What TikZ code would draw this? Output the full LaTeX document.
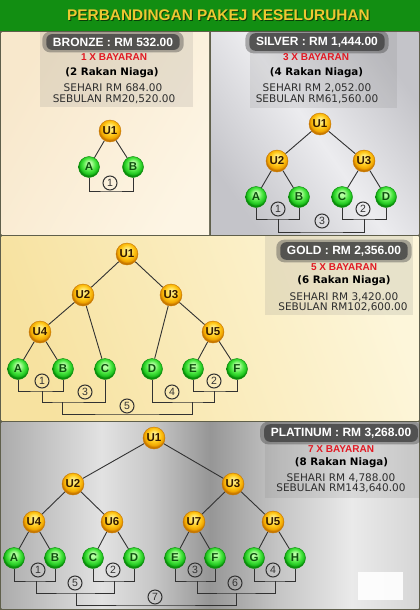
\documentclass[tikz,border=0pt]{standalone}
\usepackage{fontspec}
\setmainfont{Liberation Sans}
\newfontfamily\dvs{DejaVu Sans}
\definecolor{framec}{RGB}{95,95,75}
\definecolor{titlegreen}{RGB}{18,142,18}
\definecolor{titletext}{RGB}{238,200,50}
\definecolor{linec}{RGB}{50,50,50}
\definecolor{payred}{RGB}{225,25,35}
\definecolor{infotext}{RGB}{45,45,45}
\definecolor{hdrgray}{RGB}{65,65,65}
\definecolor{uhi}{RGB}{255,238,130}
\definecolor{umid}{RGB}{255,200,25}
\definecolor{ulow}{RGB}{240,165,0}
\definecolor{uedge}{RGB}{200,120,0}
\definecolor{utext}{RGB}{50,25,0}
\definecolor{ghi}{RGB}{185,255,165}
\definecolor{gmid}{RGB}{75,230,65}
\definecolor{glow}{RGB}{30,195,30}
\definecolor{gedge}{RGB}{10,140,10}
\definecolor{gtext}{RGB}{15,80,15}
\definecolor{bronzeA}{RGB}{248,232,204}
\definecolor{bronzeB}{RGB}{253,245,228}
\definecolor{silverA}{RGB}{196,196,201}
\definecolor{silverB}{RGB}{236,236,239}
\definecolor{goldA}{RGB}{247,226,160}
\definecolor{goldB}{RGB}{253,246,218}
\definecolor{m0}{RGB}{172,172,172}
\definecolor{m1}{RGB}{226,226,226}
\definecolor{m2}{RGB}{200,200,200}
\definecolor{m3}{RGB}{150,150,150}
\definecolor{m4}{RGB}{196,196,196}
\definecolor{m5}{RGB}{234,234,234}
\definecolor{m6}{RGB}{214,214,214}
\pgfdeclareradialshading{uball}{\pgfpoint{0bp}{9bp}}{color(0bp)=(uhi); color(5bp)=(uhi); color(15bp)=(umid); color(22bp)=(ulow); color(25bp)=(uedge); color(50bp)=(uedge)}
\pgfdeclareradialshading{gball}{\pgfpoint{0bp}{9bp}}{color(0bp)=(ghi); color(5bp)=(ghi); color(15bp)=(gmid); color(22bp)=(glow); color(25bp)=(gedge); color(50bp)=(gedge)}
\pgfdeclarehorizontalshading{metal}{100bp}{color(0bp)=(m0); color(25bp)=(m0); color(37bp)=(m1); color(43bp)=(m2); color(50bp)=(m3); color(58bp)=(m4); color(67bp)=(m5); color(75bp)=(m6); color(100bp)=(m6)}
\pgfdeclarelayer{bg}
\pgfdeclarelayer{mid}
\pgfsetlayers{bg,mid,main}
\begin{document}
\begin{tikzpicture}[x=1pt,y=-1pt,
  un/.style={circle, minimum size=22pt, inner sep=0pt, shade, shading=uball, draw=uedge, line width=0.4pt, font=\bfseries\fontsize{11.5}{11.5}\selectfont, text=utext},
  gn/.style={circle, minimum size=21pt, inner sep=0pt, shade, shading=gball, draw=gedge, line width=0.4pt, font=\bfseries\fontsize{11.5}{11.5}\selectfont, text=gtext},
  conn/.style={draw=linec, line width=0.9pt},
  brk/.style={draw=linec, line width=0.9pt},
  num/.style={circle, draw=linec, line width=1pt, minimum size=14pt, inner sep=0pt, font=\fontsize{10.5}{10.5}\selectfont, text=linec},
  hdr/.style={font=\bfseries\fontsize{12}{12}\selectfont, text=white, inner sep=1.5pt},
  pay/.style={font=\bfseries\fontsize{10}{10}\selectfont, text=payred, inner sep=0pt},
  rakan/.style={font=\dvs\bfseries\fontsize{10.3}{10.3}\selectfont, text=black, inner sep=0pt},
  info/.style={font=\dvs\fontsize{10.5}{10.5}\selectfont, text=infotext, inner sep=0pt},
  infobox/.style={fill=gray, opacity=0.17},
  glowout/.style={fill=hdrgray, opacity=0.4, rounded corners=8pt},
  glowin/.style={fill=hdrgray, opacity=0.8, rounded corners=6pt},
  ]
\useasboundingbox (0,0) rectangle (420,610);
% ---------- backgrounds ----------
\begin{pgfonlayer}{bg}
\fill[framec] (0,0) rectangle (420,610);
\fill[titlegreen] (0,0) rectangle (420,31);
\shade[left color=bronzeA, right color=bronzeB, shading angle=60] (1.5,32.5) rectangle (209,234);
\shade[left color=silverA, right color=silverA, middle color=silverB, shading angle=125] (211,32.5) rectangle (418.5,234);
\shade[left color=goldA, right color=goldB, shading angle=110] (1.5,236) rectangle (418.5,420);
\shade[shading=metal] (1.5,422) rectangle (418.5,608.5);
\fill[white, opacity=0.9] (358,572) rectangle (403,600);
\end{pgfonlayer}
% ---------- title ----------
\node[text=black, opacity=0.55, font=\bfseries\fontsize{15.4}{15.4}\selectfont] (titleS) at (219.5,15.8) {PERBANDINGAN PAKEJ KESELURUHAN};
\node[text=titletext, font=\bfseries\fontsize{15.4}{15.4}\selectfont] (title) at (218.5,14.8) {PERBANDINGAN PAKEJ KESELURUHAN};
% ---------- BRONZE ----------
\begin{pgfonlayer}{mid}
\fill[infobox] (40,32.5) rectangle (193,107);
\end{pgfonlayer}
\node[hdr] (bH) at (113,42) {BRONZE : RM 532.00};
\node[pay] (bP) at (114,57) {1 X BAYARAN};
\node[rakan] (bR) at (112,73) {(2 Rakan Niaga)};
\node[info] (bS1) at (113,88) {SEHARI RM 684.00};
\node[info] (bS2) at (114,99) {SEBULAN RM20,520.00};
\node[un] (bU1) at (110,131) {U1};
\node[gn] (bA) at (89,167) {A};
\node[gn] (bB) at (133,167) {B};
\coordinate (bk1) at (111,191);
\node[num] (bn1) at (110,183) {1};
% ---------- SILVER ----------
\begin{pgfonlayer}{mid}
\fill[infobox] (250,32.5) rectangle (397,108);
\end{pgfonlayer}
\node[hdr] (sH) at (317,42) {SILVER : RM 1,444.00};
\node[pay] (sP) at (316,57) {3 X BAYARAN};
\node[rakan] (sR) at (316.5,73) {(4 Rakan Niaga)};
\node[info] (sS1) at (317,88) {SEHARI RM 2,052.00};
\node[info] (sS2) at (317,99) {SEBULAN RM61,560.00};
\node[un] (sU1) at (320,124) {U1};
\node[un] (sU2) at (277,161) {U2};
\node[un] (sU3) at (364,161) {U3};
\node[gn] (sA) at (256,197) {A};
\node[gn] (sB) at (299,197) {B};
\node[gn] (sC) at (342,197) {C};
\node[gn] (sD) at (386,197) {D};
\coordinate (sk1) at (278,219);
\coordinate (sk2) at (364,219);
\coordinate (sk3) at (322,232);
\node[num] (sn1) at (278,209) {1};
\node[num] (sn2) at (363,209) {2};
\node[num] (sn3) at (322,221) {3};
% ---------- GOLD ----------
\begin{pgfonlayer}{mid}
\fill[infobox] (265,236) rectangle (413,315);
\end{pgfonlayer}
\node[hdr] (gH) at (344,251) {GOLD : RM 2,356.00};
\node[pay] (gP) at (344,267) {5 X BAYARAN};
\node[rakan] (gR) at (344,281) {(6 Rakan Niaga)};
\node[info] (gS1) at (344,297) {SEHARI RM 3,420.00};
\node[info] (gS2) at (343,307) {SEBULAN RM102,600.00};
\node[un] (gU1) at (127,254) {U1};
\node[un] (gU2) at (83,295) {U2};
\node[un] (gU3) at (171,295) {U3};
\node[un] (gU4) at (40,332) {U4};
\node[un] (gU5) at (213,332) {U5};
\node[gn] (gA) at (18,369) {A};
\node[gn] (gB) at (63,369) {B};
\node[gn] (gC) at (105,369) {C};
\node[gn] (gD) at (152,369) {D};
\node[gn] (gE) at (193,369) {E};
\node[gn] (gF) at (237,369) {F};
\coordinate (gk1) at (42,391);
\coordinate (gk2) at (214,391);
\coordinate (gk3) at (62,402);
\coordinate (gk4) at (192,402);
\coordinate (gk5) at (127,414);
\node[num] (gn1) at (42,381) {1};
\node[num] (gn2) at (214,381) {2};
\node[num] (gn3) at (85,392) {3};
\node[num] (gn4) at (172,392) {4};
\node[num] (gn5) at (127,406) {5};
% ---------- PLATINUM ----------
\begin{pgfonlayer}{mid}
\fill[infobox] (265,422) rectangle (418.5,498);
\end{pgfonlayer}
\node[hdr] (pH) at (341,433) {PLATINUM : RM 3,268.00};
\node[pay] (pP) at (341,449) {7 X BAYARAN};
\node[rakan] (pR) at (341.5,463) {(8 Rakan Niaga)};
\node[info] (pS1) at (341,478) {SEHARI RM 4,788.00};
\node[info] (pS2) at (341,488) {SEBULAN RM143,640.00};
\node[un] (pU1) at (154,438) {U1};
\node[un] (pU2) at (73,484) {U2};
\node[un] (pU3) at (233,484) {U3};
\node[un] (pU4) at (34,522) {U4};
\node[un] (pU6) at (112,522) {U6};
\node[un] (pU7) at (194,522) {U7};
\node[un] (pU5) at (273,522) {U5};
\node[gn] (pA) at (14,558) {A};
\node[gn] (pB) at (55,558) {B};
\node[gn] (pC) at (93,558) {C};
\node[gn] (pD) at (134,558) {D};
\node[gn] (pE) at (175,558) {E};
\node[gn] (pF) at (215,558) {F};
\node[gn] (pG) at (254,558) {G};
\node[gn] (pHH) at (295,558) {H};
\coordinate (pk1) at (36,581);
\coordinate (pk2) at (114,581);
\coordinate (pk3) at (197,581);
\coordinate (pk4) at (275,581);
\coordinate (pk5) at (76,593);
\coordinate (pk6) at (236,593);
\coordinate (pk7) at (155,605);
\node[num] (pn1) at (38,570) {1};
\node[num] (pn2) at (113,570) {2};
\node[num] (pn3) at (195,570) {3};
\node[num] (pn4) at (273,570) {4};
\node[num] (pn5) at (75,583) {5};
\node[num] (pn6) at (235,583) {6};
\node[num] (pn7) at (155,597) {7};
% ---------- header glows ----------
\begin{pgfonlayer}{mid}
\foreach \h in {bH,sH,gH,pH}{
  \fill[glowout] ([shift={(-9,-4.5)}]\h.north west) rectangle ([shift={(9,4.5)}]\h.south east);
  \fill[glowin] ([shift={(-5,-2)}]\h.north west) rectangle ([shift={(5,2)}]\h.south east);
}
% ---------- connectors ----------
\draw[conn] (bU1) -- (bA); \draw[conn] (bU1) -- (bB);
\draw[brk] (bA.south) |- (bk1) -| (bB.south);
\draw[conn] (sU1) -- (sU2); \draw[conn] (sU1) -- (sU3);
\draw[conn] (sU2) -- (sA); \draw[conn] (sU2) -- (sB);
\draw[conn] (sU3) -- (sC); \draw[conn] (sU3) -- (sD);
\draw[brk] (sA.south) |- (sk1) -| (sB.south);
\draw[brk] (sC.south) |- (sk2) -| (sD.south);
\draw[brk] (sk1) |- (sk3) -| (sk2);
\draw[conn] (gU1) -- (gU2); \draw[conn] (gU1) -- (gU3);
\draw[conn] (gU2) -- (gU4); \draw[conn] (gU2) -- (gC);
\draw[conn] (gU3) -- (gD); \draw[conn] (gU3) -- (gU5);
\draw[conn] (gU4) -- (gA); \draw[conn] (gU4) -- (gB);
\draw[conn] (gU5) -- (gE); \draw[conn] (gU5) -- (gF);
\draw[brk] (gA.south) |- (gk1) -| (gB.south);
\draw[brk] (gE.south) |- (gk2) -| (gF.south);
\draw[brk] (gk1) |- (gk3) -| (gC.south);
\draw[brk] (gD.south) |- (gk4) -| (gk2);
\draw[brk] (gk3) |- (gk5) -| (gk4);
\draw[conn] (pU1) -- (pU2); \draw[conn] (pU1) -- (pU3);
\draw[conn] (pU2) -- (pU4); \draw[conn] (pU2) -- (pU6);
\draw[conn] (pU3) -- (pU7); \draw[conn] (pU3) -- (pU5);
\draw[conn] (pU4) -- (pA); \draw[conn] (pU4) -- (pB);
\draw[conn] (pU6) -- (pC); \draw[conn] (pU6) -- (pD);
\draw[conn] (pU7) -- (pE); \draw[conn] (pU7) -- (pF);
\draw[conn] (pU5) -- (pG); \draw[conn] (pU5) -- (pHH);
\draw[brk] (pA.south) |- (pk1) -| (pB.south);
\draw[brk] (pC.south) |- (pk2) -| (pD.south);
\draw[brk] (pE.south) |- (pk3) -| (pF.south);
\draw[brk] (pG.south) |- (pk4) -| (pHH.south);
\draw[brk] (pk1) |- (pk5) -| (pk2);
\draw[brk] (pk3) |- (pk6) -| (pk4);
\draw[brk] (pk5) |- (pk7) -| (pk6);
\end{pgfonlayer}
\end{tikzpicture}
\end{document}
